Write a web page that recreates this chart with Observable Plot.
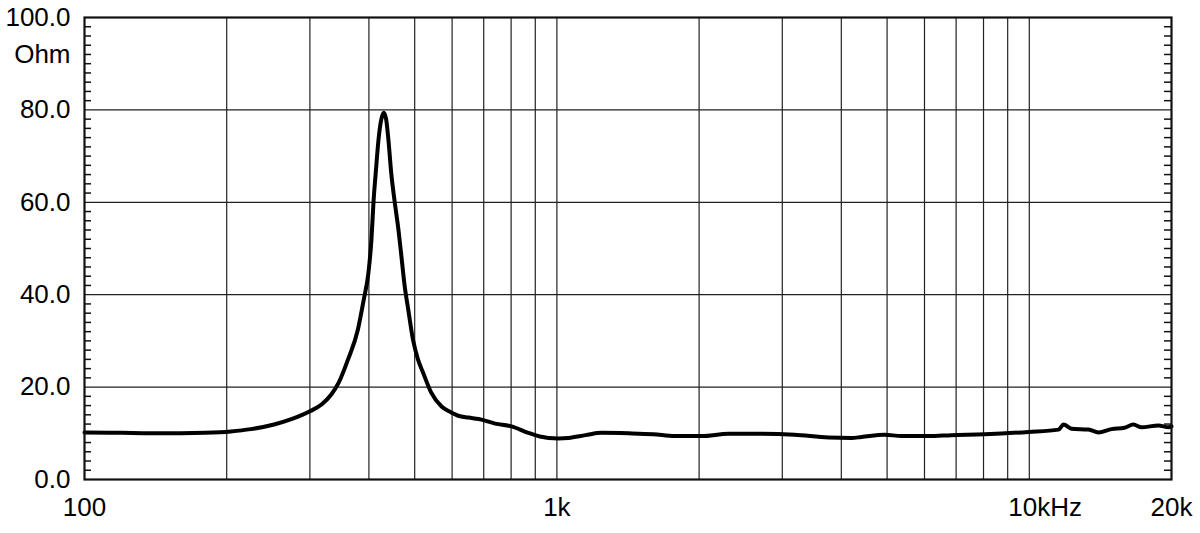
<!DOCTYPE html>
<html>
<head>
<meta charset="utf-8">
<script src="https://cdn.jsdelivr.net/npm/d3@7"></script>
<script src="https://cdn.jsdelivr.net/npm/@observablehq/plot@0.6"></script>
<style>
  html, body { margin: 0; padding: 0; background: #fff; }
  #chart svg { display: block; }
</style>
</head>
<body>
<div id="chart"></div>
<script>
// Frequency (Hz) and impedance (Ohm)
const freqs = [100, 120, 138, 160, 180, 204, 225, 252, 275, 300, 318, 333, 345, 361, 379, 390, 399, 405, 409, 414, 419, 425, 430, 435, 440, 446, 453, 462, 469, 476, 485, 496, 508, 521, 542, 570, 595, 618, 650, 683, 740, 801, 870, 920, 960, 1008, 1058, 1150, 1243, 1418, 1600, 1774, 2024, 2309, 2712, 3184, 3757, 4203, 4414, 4937, 5364, 6116, 6842, 8039, 9961, 11530, 11818, 12287, 13350, 14013, 14930, 15904, 16615, 17276, 18770, 19710, 20000];
const ohms  = [10.2, 10.1, 10.0, 10.0, 10.1, 10.4, 10.9, 11.9, 13.1, 14.75, 16.3, 18.4, 20.9, 25.9, 32.4, 38.9, 44.7, 52.0, 60.0, 67.0, 73.4, 78.0, 79.4, 78.0, 73.4, 66.3, 60.5, 54.0, 48.0, 42.0, 36.5, 30.2, 26.0, 23.1, 18.8, 15.8, 14.6, 13.8, 13.4, 13.1, 12.1, 11.5, 10.1, 9.3, 9.0, 8.9, 9.0, 9.6, 10.1, 10.0, 9.8, 9.4, 9.4, 9.9, 9.9, 9.7, 9.1, 9.0, 9.2, 9.7, 9.4, 9.4, 9.6, 9.8, 10.3, 10.8, 11.9, 11.0, 10.8, 10.2, 10.9, 11.2, 11.9, 11.3, 11.7, 11.3, 11.5];

const gridX = [200, 300, 400, 500, 600, 700, 800, 900, 1000, 2000, 3000, 4000, 5000, 6000, 7000, 8000, 9000, 10000];
const gridY = [20, 40, 60, 80];
const minorY = [2,4,6,8,10,12,14,16,18,22,24,26,28,30,32,34,36,38,42,44,46,48,50,52,54,56,58,62,64,66,68,70,72,74,76,78,82,84,86,88,90,92,94,96,98];
const yTicks = [0, 20, 40, 60, 80, 100];
const yTickLabels = ["0.0", "20.0", "40.0", "60.0", "80.0", "100.0"];
const xTicks = [100, 1000, 20000];
const xTickLabels = ["100", "1k", "20k"];
const xUnitTick = [10000];
const xUnitLabel = ["10kHz"];
const unitLabel = [{v: 92, text: "Ohm"}];

const data = freqs.map((f, i) => ({f, z: ohms[i]}));

const W = 1200, H = 533, ML = 84, MR = 29, MT = 17, MB = 54;
const innerW = W - ML - MR;

const chart = Plot.plot({
  width: W,
  height: H,
  marginLeft: ML,
  marginRight: MR,
  marginTop: MT,
  marginBottom: MB,
  x: {type: "log", domain: [100, 20000], axis: null},
  y: {domain: [0, 100], axis: null},
  style: {fontFamily: "'Liberation Sans', Arial, Helvetica, sans-serif", fontSize: "26px", color: "#000", background: "#fff"},
  marks: [
    Plot.ruleX(gridX, {x: d => d, stroke: "#222", strokeWidth: 1.2, strokeOpacity: 1}),
    Plot.ruleY(gridY, {y: d => d, stroke: "#222", strokeWidth: 1.2, strokeOpacity: 1}),
    Plot.tickY(minorY, {y: d => d, insetRight: innerW - 7, stroke: "#111", strokeWidth: 1.5}),
    Plot.tickY(minorY, {y: d => d, insetLeft: innerW - 7, stroke: "#111", strokeWidth: 1.5}),
    Plot.line(data, {x: "f", y: "z", stroke: "#000", strokeWidth: 4, strokeLinejoin: "round", strokeLinecap: "round", curve: "monotone-x"}),
    Plot.frame({stroke: "#111", strokeWidth: 2.2}),
    Plot.text(yTicks, {y: d => d, frameAnchor: "left", dx: -14, textAnchor: "end", text: (d, i) => yTickLabels[i], fill: "#000"}),
    Plot.text(unitLabel, {y: "v", frameAnchor: "left", dx: -14, textAnchor: "end", text: "text", fill: "#000"}),
    Plot.text(xTicks, {x: d => d, frameAnchor: "bottom", dy: 36, text: (d, i) => xTickLabels[i], fill: "#000"}),
    Plot.text(xUnitTick, {x: d => d, frameAnchor: "bottom", dy: 36, dx: -21, textAnchor: "start", text: (d, i) => xUnitLabel[i], fill: "#000"})
  ]
});
document.getElementById("chart").appendChild(chart);
</script>
</body>
</html>
